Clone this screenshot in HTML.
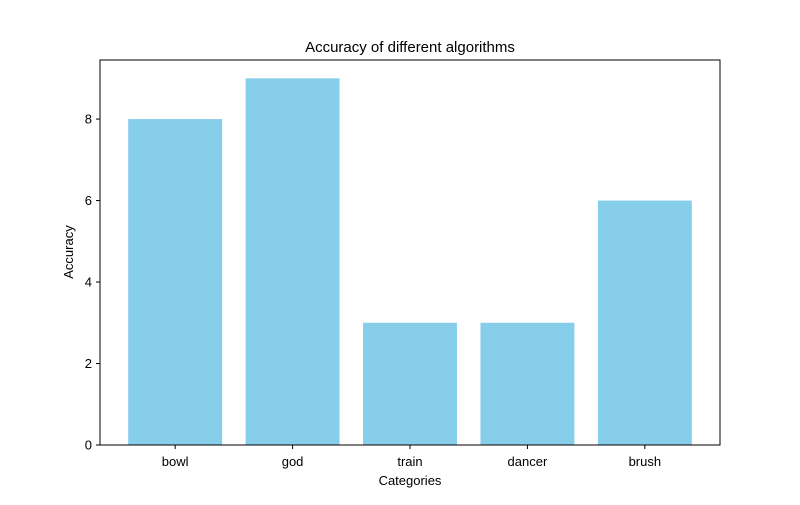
<!DOCTYPE html>
<html><head><meta charset="utf-8"><style>
body{margin:0;background:#fff;}
svg text{font-family:"Liberation Sans","DejaVu Sans",sans-serif;}
</style></head><body>
<svg id="chart" width="800" height="500" xmlns="http://www.w3.org/2000/svg">
<rect width="800" height="500" fill="#fff"/>
<text x="410" y="52" text-anchor="middle" font-size="15">Accuracy of different algorithms</text>
<g id="bars"></g>
<g id="yticks"></g>
<g id="xticks"></g>
<rect x="100" y="60" width="620" height="385" fill="none" stroke="#000" stroke-width="1"/>
<text x="410" y="485" text-anchor="middle" font-size="13">Categories</text>
<text x="73" y="252" text-anchor="middle" font-size="13" transform="rotate(-90 73 252)">Accuracy</text>
</svg>
<script>
const categories=["bowl","god","train","dancer","brush"];
const values=[8,9,3,3,6];
const yTicks=[0,2,4,6,8];
const NS="http://www.w3.org/2000/svg";
const L=100,R=720,T=60,B=445;
const xmin=-0.64,xmax=4.64,ymax=9.45;
const xs=v=>L+(v-xmin)/(xmax-xmin)*(R-L);
const ys=v=>B-v/ymax*(B-T);
function mk(tag,attrs,parent){const e=document.createElementNS(NS,tag);for(const k in attrs)e.setAttribute(k,attrs[k]);parent.appendChild(e);return e;}
const bars=document.getElementById('bars'),xt=document.getElementById('xticks'),yt=document.getElementById('yticks');
categories.forEach((c,i)=>{
 const r=mk('rect',{x:xs(i-0.4),y:ys(values[i]),width:xs(i+0.4)-xs(i-0.4),height:ys(0)-ys(values[i]),fill:'#87ceeb'},bars);
 
 
 const l=mk('line',{x1:xs(i),x2:xs(i),y1:B,y2:B+4,stroke:'#000'},xt);
 
 
 const t=mk('text',{x:xs(i),y:B+21,'text-anchor':'middle','font-size':13},xt);
 t.textContent=c;
 
 
});
yTicks.forEach(v=>{
 const l=mk('line',{x1:L-4,x2:L,y1:ys(v),y2:ys(v),stroke:'#000'},yt);
 
 
 const t=mk('text',{x:L-8,y:ys(v)+4.5,'text-anchor':'end','font-size':13},yt);
 t.textContent=v;
 
 
});
</script>
</body></html>
